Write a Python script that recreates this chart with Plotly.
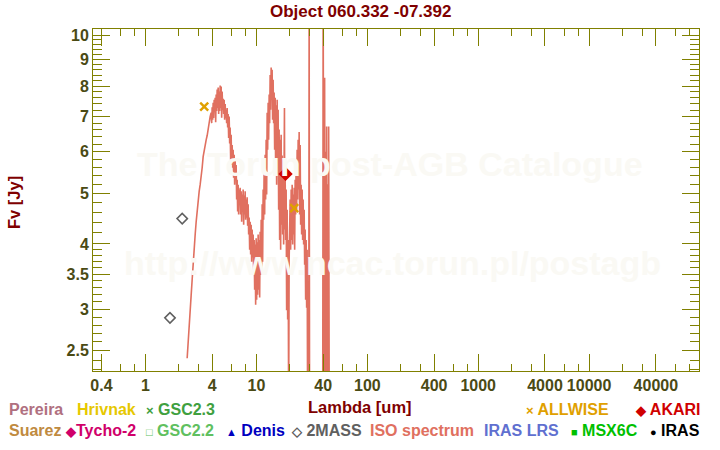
import plotly.graph_objects as go

# ---------------- data ----------------
iso_wl = [2.372, 2.422, 2.473, 2.524, 2.577, 2.632, 2.687, 2.743, 2.802, 2.860, 2.920, 2.982,
          3.044, 3.107, 3.173, 3.239, 3.307, 3.377, 3.447, 3.520, 3.594, 3.669, 3.746, 3.824, 3.905,
          3.946, 3.987, 4.028, 4.070, 4.112, 4.156, 4.199, 4.243, 4.287, 4.332, 4.377, 4.423, 4.469,
          4.516, 4.563, 4.610, 4.658, 4.707, 4.756, 4.806, 4.856, 4.906, 4.957, 5.009, 5.061, 5.114,
          5.168, 5.222, 5.276, 5.331, 5.387, 5.443, 5.500, 5.557,
          5.615, 5.674, 5.733, 5.792, 5.853, 5.914, 5.975, 6.038, 6.100, 6.164, 6.228, 6.294, 6.359,
          6.426, 6.493, 6.560, 6.629, 6.698, 6.768, 6.839, 6.910, 6.982, 7.055, 7.129,
          7.203, 7.278, 7.354, 7.431, 7.508, 7.587, 7.666, 7.746, 7.827, 7.909, 7.991, 8.075, 8.159,
          8.244, 8.330, 8.417,
          8.505, 8.594, 8.683, 8.774, 8.865, 8.958, 9.051, 9.146, 9.241, 9.338,
          9.435, 9.534, 9.633, 9.734, 9.835, 9.938, 10.04, 10.15, 10.25, 10.36, 10.47, 10.58, 10.69,
          10.80, 10.91, 11.03, 11.14, 11.26, 11.37, 11.49, 11.61, 11.73, 11.86, 11.98, 12.10, 12.23,
          12.36, 12.49, 12.62, 12.75, 12.88, 13.02, 13.15, 13.29, 13.43, 13.57, 13.71, 13.85, 13.99,
          14.14, 14.29, 14.44, 14.59, 14.75, 14.90, 15.06, 15.21, 15.37, 15.53, 15.69, 15.86, 16.02,
          16.19, 16.36, 16.53, 16.70, 16.87, 17.05, 17.23, 17.41, 17.59, 17.78, 17.89, 18.00, 18.15,
          18.34, 18.53, 18.72, 18.92, 19.12, 19.32, 19.52, 19.72, 19.93, 20.13, 20.34, 20.56, 20.77,
          20.99, 21.21, 21.43, 21.65, 21.88, 22.11, 22.34, 22.57, 22.81, 23.04, 23.28, 23.53, 23.77,
          24.02, 24.27, 24.52, 24.78, 25.04, 25.30, 25.56, 25.83, 26.10, 26.37, 26.65, 26.93, 27.21,
          27.49, 27.78, 28.07, 28.36, 28.66, 28.96, 29.26, 29.57, 29.87, 30.18,
          31.5, 33.0, 35.0, 37.0, 38.5, 39.5, 39.95, 40.37, 40.79, 41.20, 41.65, 42.08, 42.52, 42.96,
          43.41, 43.86, 44.32, 44.80, 45.25, 45.70]
iso_flux = [2.42, 2.63, 2.80, 2.95, 3.19, 3.42, 3.73, 3.99, 4.17, 4.41, 4.65, 4.86,
            5.04, 5.19, 5.35, 5.59, 5.87, 6.05, 6.14, 6.32, 6.44, 6.67, 6.85, 7.00, 7.12,
            6.80, 7.29, 6.90, 7.44, 6.96, 7.54, 7.17, 7.60, 6.83, 7.71, 7.17, 7.88, 7.27,
            7.95, 7.08, 7.81, 7.17, 8.02, 7.27, 7.99, 6.96, 7.81, 7.21, 7.57, 7.08, 7.54,
            6.90, 7.40, 6.96, 7.21, 6.80, 7.27, 6.67, 7.08,
            6.37, 7.00, 6.22, 6.67, 5.79, 6.46, 5.66, 6.18, 5.59, 6.05, 5.35, 5.92, 5.19,
            5.79, 5.30, 5.66, 4.86, 5.30, 4.61, 5.19, 4.55, 5.08, 4.76, 5.12,
            4.55, 5.04, 4.41, 4.97, 4.65, 5.08, 4.35, 4.95, 4.55, 5.04, 4.45, 4.86, 4.49,
            4.91, 4.33, 4.76,
            4.17, 4.49, 3.90, 4.41, 3.82, 4.35, 3.70, 4.26, 3.77, 4.17,
            3.49, 4.07, 3.27, 3.99, 3.06, 4.10, 3.13, 4.03, 3.20, 4.17, 3.27, 4.07, 3.16,
            4.22, 3.49, 4.45, 3.57, 4.76, 3.70, 5.08, 4.45, 5.54, 4.55, 5.92, 4.86, 6.32,
            4.97, 7.12, 6.05, 7.44, 6.32, 7.71, 6.80, 8.40, 7.21, 8.68, 7.54, 8.60, 6.90,
            8.23, 6.80, 7.78, 6.05, 7.60, 5.54, 7.36, 5.19, 7.54, 5.79, 7.21, 4.65, 6.61,
            4.07, 6.32, 3.90, 6.46, 4.35, 5.90, 4.17, 5.75, 3.99, 5.95, 7.27, 4.26, 5.42,
            4.07, 5.08, 2.99, 4.65, 2.87, 4.07, 1.90, 3.73, 4.26, 4.86, 3.90, 5.08, 4.07,
            5.19, 3.99, 4.97, 4.17, 5.12, 3.90, 5.30, 4.55, 5.79, 4.65, 6.05, 4.86, 6.32,
            5.08, 6.54, 4.55, 6.18, 4.35, 5.19, 4.17, 5.08, 4.07, 4.86, 3.99, 4.65, 3.65,
            4.26, 3.13, 4.07, 3.02, 3.90, 1.80, 3.13, 1.40, 12.0, 1.20,
            1.0, 0.9, 1.1, 0.8, 1.0, 1.0, 12.0, 4.3, 2.0, 8.3, 1.5, 6.0, 2.0, 6.7,
            1.0, 5.2, 0.8, 6.7, 2.5, 0.8]

twomass_wl = [1.66, 2.14]
twomass_flux = [2.89, 4.47]
allwise_wl = [3.38, 21.9]
allwise_flux = [7.31, 4.68]
akari_wl = [18.3]
akari_flux = [5.44]

x_tick_vals = [0.4, 1, 4, 10, 40, 100, 400, 1000, 4000, 10000, 40000]
x_tick_text = ["0.4", "1", "4", "10", "40", "100", "400", "1000", "4000", "10000", "40000"]
x_minor_vals = [0.6, 0.8, 2, 3, 6, 8, 20, 30, 60, 80, 200, 300, 600, 800, 2000, 3000,
                6000, 8000, 20000, 30000, 60000, 80000]
y_tick_vals = [10, 9, 8, 7, 6, 5, 4, 3.5, 3, 2.5]
y_tick_text = ["10", "9", "8", "7", "6", "5", "4", "3.5", "3", "2.5"]
y_minor_vals = [9.2, 9.4, 9.6, 9.8, 8.2, 8.4, 8.6, 8.8, 7.2, 7.4, 7.6, 7.8, 6.2, 6.4, 6.6, 6.8,
                5.2, 5.4, 5.6, 5.8, 4.2, 4.4, 4.6, 4.8, 3.6, 3.7, 3.8, 3.9, 3.1, 3.2, 3.3, 3.4,
                2.6, 2.7, 2.8, 2.9, 2.4, 2.3]

title_text = "Object 060.332 -07.392"
x_title = "Lambda [um]"
y_title = "Fv [Jy]"

# legend rows: (label, symbol, colour, left pixel)
legend_row1 = [("Pereira", "", "#b07080", 7),
               ("Hrivnak", "", "#e6c800", 75),
               ("GSC2.3", "×", "#40a040", 144),
               ("ALLWISE", "×", "#e0a000", 524),
               ("AKARI", "◆", "#d00000", 633)]
legend_row2 = [("Suarez", "", "#c08a40", 7),
               ("Tycho-2", "◆", "#d0006a", 63),
               ("GSC2.2", "□", "#60c060", 144),
               ("Denis", "▲", "#0000c0", 224),
               ("2MASS", "◇", "#606060", 289),
               ("ISO spectrum", "", "#e07060", 368),
               ("IRAS LRS", "", "#6070d0", 482),
               ("MSX6C", "■", "#00c000", 569),
               ("IRAS", "●", "#000000", 648)]

# ---------------- figure ----------------
OLIVE = "#808000"
TICKC = "#4a4a14"
DARKRED = "#800000"
FONT = "Liberation Sans"

L, R, T, B = 93, 21, 29, 79
W, H = 720, 450
pw, ph = W - L - R, H - T - B


def px(X):
    return (X - L) / pw


def py(Y):
    return (H - B - Y) / ph


fig = go.Figure()
fig.add_trace(go.Scatter(x=iso_wl, y=iso_flux, mode="lines",
                         line=dict(color="#e07060", width=1.6), showlegend=False))
fig.add_trace(go.Scatter(x=twomass_wl, y=twomass_flux, mode="markers",
                         marker=dict(symbol="diamond-open", size=8, color="#606060",
                                     line=dict(width=1.5, color="#606060")), showlegend=False))
fig.add_trace(go.Scatter(x=allwise_wl, y=allwise_flux, mode="markers",
                         marker=dict(symbol="x-thin-open", size=8, color="#e0a000",
                                     line=dict(width=2.4, color="#e0a000")), showlegend=False))
fig.add_trace(go.Scatter(x=akari_wl, y=akari_flux, mode="markers",
                         marker=dict(symbol="diamond", size=11, color="#d00000"), showlegend=False))

tickfont = dict(family=FONT, size=16, color=TICKC, weight="bold")
fig.update_xaxes(type="log", range=[-0.474, 4.991], showgrid=False, zeroline=False,
                 showline=True, linecolor=OLIVE, linewidth=1, mirror="allticks",
                 ticks="inside", ticklen=17, tickcolor=OLIVE, tickwidth=1,
                 tickmode="array", tickvals=x_tick_vals, ticktext=x_tick_text, tickfont=tickfont,
                 minor=dict(tickmode="array", tickvals=x_minor_vals, ticks="inside", ticklen=7,
                            tickcolor=OLIVE, tickwidth=1))
fig.update_yaxes(type="log", range=[0.3595, 1.0122], showgrid=False, zeroline=False,
                 showline=True, linecolor=OLIVE, linewidth=1, mirror="allticks",
                 ticks="inside", ticklen=17, tickcolor=OLIVE, tickwidth=1,
                 tickmode="array", tickvals=y_tick_vals, ticktext=y_tick_text, tickfont=tickfont,
                 minor=dict(tickmode="array", tickvals=y_minor_vals, ticks="inside", ticklen=9,
                            tickcolor=OLIVE, tickwidth=1))

ann = []
# watermark
ann.append(dict(text="The Torun post-AGB Catalogue", x=px(390), y=py(164), xref="paper", yref="paper",
                showarrow=False, xanchor="center", yanchor="middle",
                font=dict(family=FONT, size=34, color="#faf9f4", weight="bold")))
ann.append(dict(text="http://www.ncac.torun.pl/postagb", x=px(392), y=py(263), xref="paper", yref="paper",
                showarrow=False, xanchor="center", yanchor="middle",
                font=dict(family=FONT, size=34, color="#faf9f4", weight="bold")))
# title and axis titles
ann.append(dict(text=title_text, x=px(360), y=py(11), xref="paper", yref="paper", showarrow=False,
                xanchor="center", yanchor="middle",
                font=dict(family=FONT, size=17, color=DARKRED, weight="bold")))
ann.append(dict(text=x_title, x=px(360), y=py(407), xref="paper", yref="paper", showarrow=False,
                xanchor="center", yanchor="middle",
                font=dict(family=FONT, size=16.5, color=DARKRED, weight="bold")))
ann.append(dict(text=y_title, x=px(14), y=py(203), xref="paper", yref="paper", showarrow=False,
                xanchor="center", yanchor="middle", textangle=-90,
                font=dict(family=FONT, size=16.5, color=DARKRED, weight="bold")))
# legend
for row, Y in ((legend_row1, 409), (legend_row2, 430)):
    for label, sym, col, X in row:
        if sym:
            sz = 11 if sym in ("□", "●", "■", "▲") else 13
            sep = "" if label == "Tycho-2" else " "
            txt = "<span style='font-size:%dpx'>%s</span>%s%s" % (sz, sym, sep, label)
        else:
            txt = label
        ann.append(dict(text=txt, x=px(X), y=py(Y), xref="paper", yref="paper", showarrow=False,
                        xanchor="left", yanchor="middle",
                        font=dict(family=FONT, size=16, color=col, weight="bold")))

fig.update_layout(width=W, height=H, autosize=False,
                  margin=dict(l=L, r=R, t=T, b=B, pad=0),
                  paper_bgcolor="white", plot_bgcolor="white",
                  annotations=ann, showlegend=False)

fig.write_html("out.html")
